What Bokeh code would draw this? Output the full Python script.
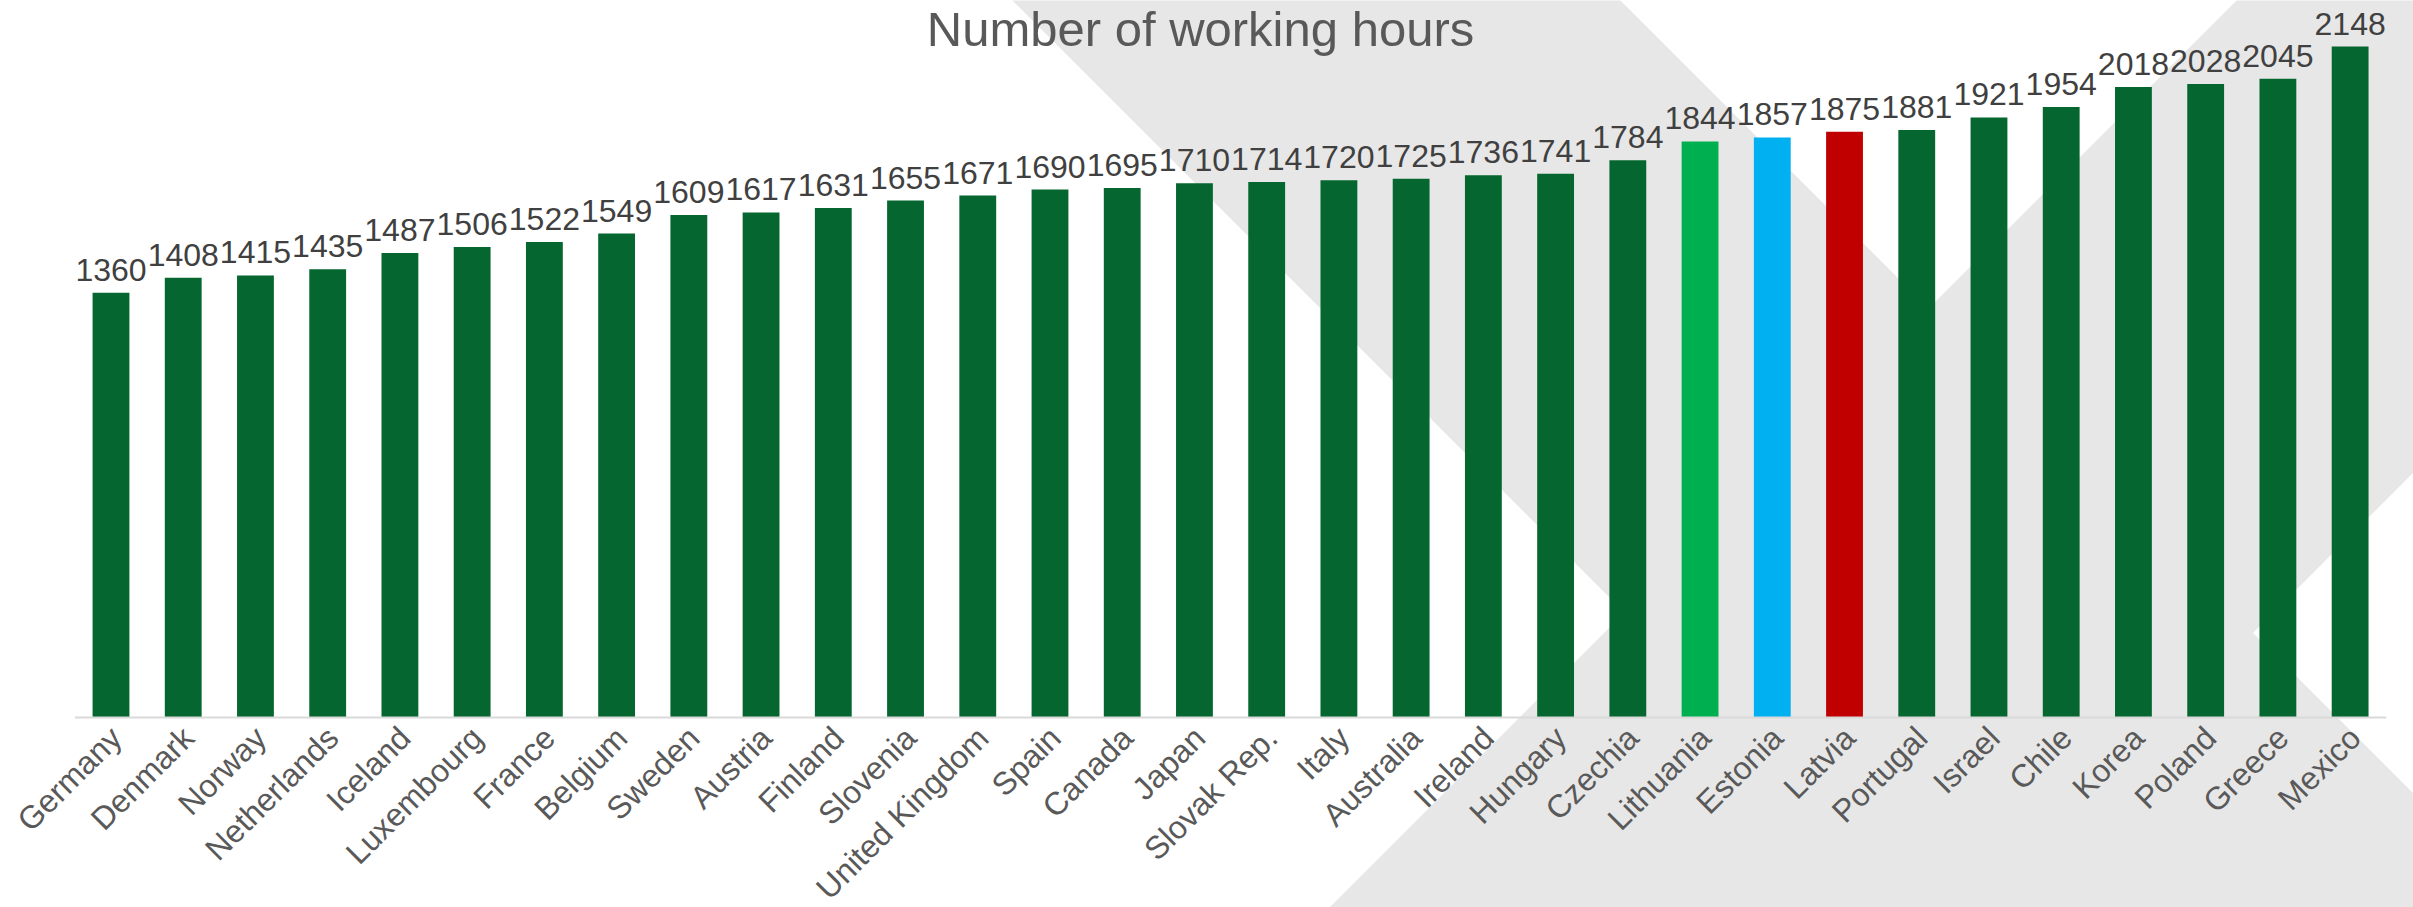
import math
from bokeh.plotting import figure
from bokeh.models import Range1d, ColumnDataSource
from bokeh.core.properties import value
from bokeh.embed import file_html
from bokeh.resources import INLINE

# ---------------- data ----------------
countries = ["Germany", "Denmark", "Norway", "Netherlands", "Iceland", "Luxembourg",
             "France", "Belgium", "Sweden", "Austria", "Finland", "Slovenia",
             "United Kingdom", "Spain", "Canada", "Japan", "Slovak Rep.", "Italy",
             "Australia", "Ireland", "Hungary", "Czechia", "Lithuania", "Estonia",
             "Latvia", "Portugal", "Israel", "Chile", "Korea", "Poland", "Greece", "Mexico"]
hours = [1360, 1408, 1415, 1435, 1487, 1506, 1522, 1549, 1609, 1617, 1631, 1655,
         1671, 1690, 1695, 1710, 1714, 1720, 1725, 1736, 1741, 1784, 1844, 1857,
         1875, 1881, 1921, 1954, 2018, 2028, 2045, 2148]
title_text = "Number of working hours"

# ---------------- styles ----------------
BASE_COLOR = "#05672f"
HIGHLIGHT = {"Lithuania": "#00b050", "Estonia": "#00b0f0", "Latvia": "#c00000"}
BAND_COLOR = "#e7e7e7"
FONT = "Liberation Sans"

W, H = 2413, 907
# layout geometry (canvas pixels) used to place the frame
X0, STEP = 110.5, 72.23       # x of first bar centre, bar pitch
Y0, PXU = 717.0, 0.31238      # y of baseline, pixels per hour

def dx(X):
    return (X - X0) / STEP

def dy(Y):
    return (Y0 - Y) / PXU

n = len(countries)
idx = list(range(n))
colors = [HIGHLIGHT.get(c, BASE_COLOR) for c in countries]

src = ColumnDataSource(dict(x=idx, top=hours, country=countries, color=colors,
                            label=[str(v) for v in hours], zero=[0] * n))

p = figure(width=W, height=H, output_backend="svg", toolbar_location=None,
           x_range=Range1d(dx(0), dx(W)), y_range=Range1d(dy(H), dy(0)),
           x_axis_location=None, y_axis_location=None, min_border=0,
           outline_line_color=None, background_fill_color="white", border_fill_color="white")
p.grid.visible = False

# decorative diagonal bands (canvas-pixel geometry)
yt, yb = -50, 960
band1 = ([1012 + yt, 1620 + yt, 1620 + yb, 1012 + yb], [yt, yt, yb, yb])
band2 = ([2236 - yt, 2885 - yt, 2885 - yb, 2236 - yb], [yt, yt, yb, yb])
p.patches(xs=[[dx(v) for v in band1[0]], [dx(v) for v in band2[0]]],
          ys=[[dy(v) for v in band1[1]], [dy(v) for v in band2[1]]],
          fill_color=BAND_COLOR, line_color=None)

# bars
p.vbar(x="x", top="top", bottom=0, width=0.51, fill_color="color", line_color=None, source=src)

# axis line
p.line(x=[-0.5, n - 0.5], y=[0, 0], line_color="#d9d9d9", line_width=2)

# value labels
p.text(x="x", y="top", text="label", source=src, text_align="center",
       text_baseline="bottom", y_offset=-12, text_font=value(FONT),
       text_font_size="32px", text_color="#404040")

# category labels
p.text(x="x", y="zero", text="country", source=src, angle=math.pi / 4,
       text_align="right", text_baseline="middle", x_offset=5, y_offset=15,
       text_font=value(FONT), text_font_size="32px", text_color="#595959")

# title
p.text(x=[dx(1200)], y=[dy(1)], text=[title_text], text_align="center",
       text_baseline="top", text_font=value(FONT), text_font_size="49px",
       text_color="#595959")

open("out.html", "w").write(file_html(p, INLINE))
